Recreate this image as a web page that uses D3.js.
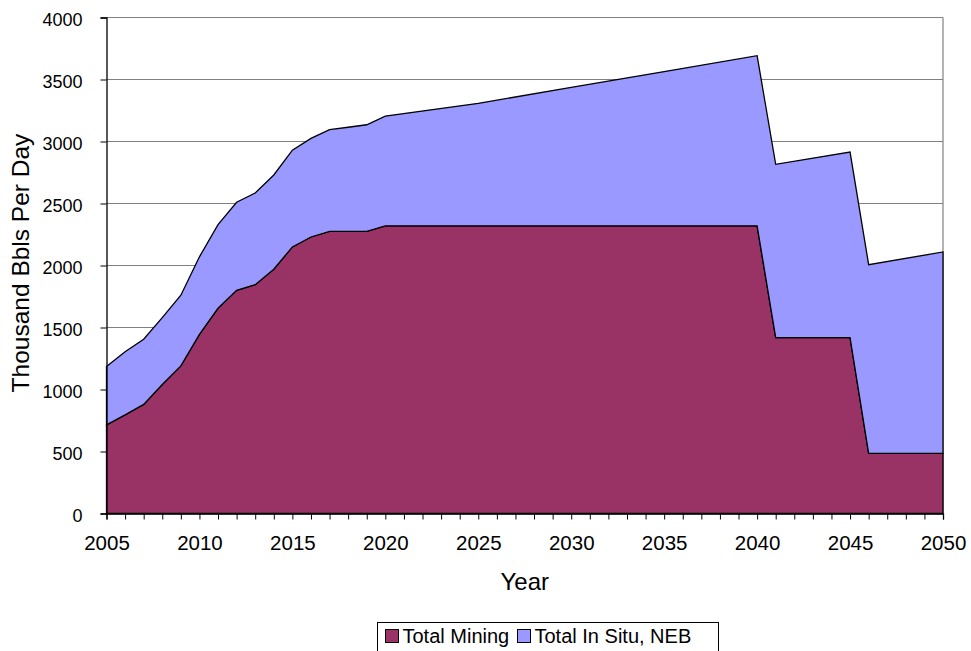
<!DOCTYPE html>
<html>
<head>
<meta charset="utf-8">
<script src="https://cdn.jsdelivr.net/npm/d3@7"></script>
<style>
  html, body { margin: 0; padding: 0; background: #fff; }
  svg { display: block; font-family: "Liberation Sans", Arial, sans-serif; }
</style>
</head>
<body>
<svg id="chart" width="971" height="651"></svg>
<script>
// Oil sands production outlook, thousand barrels per day
const years   = [2005, 2006, 2007, 2008, 2009, 2010, 2011, 2012, 2013, 2014, 2015, 2016, 2017, 2018, 2019, 2020,
                 2025, 2030, 2035, 2040, 2041, 2045, 2046, 2050];
const mining  = [715, 795, 880, 1040, 1190, 1445, 1655, 1800, 1845, 1970, 2150, 2230, 2275, 2275, 2275, 2320,
                 2320, 2320, 2320, 2320, 1418, 1418, 485, 485];
const inSitu  = [470, 510, 525, 540, 570, 625, 675, 710, 740, 760, 780, 795, 820, 840, 860, 885,
                 988, 1116, 1244, 1372, 1398, 1497, 1522, 1624];
const seriesNames = ["Total Mining", "Total In Situ, NEB"];
const colors = ["#993366", "#9999FF"];
const yTicks = [0, 500, 1000, 1500, 2000, 2500, 3000, 3500, 4000];
const xLabelYears = [2005, 2010, 2015, 2020, 2025, 2030, 2035, 2040, 2045, 2050];

const svg = d3.select("#chart");
const plotL = 106.5, plotR = 943, plotT = 17.5, plotB = 513.5;

const x = d3.scaleLinear().domain([2005, 2050]).range([plotL, plotR]);
const y = d3.scaleLinear().domain([0, 4000]).range([plotB, plotT]);

const rows = years.map((yr, i) => ({ year: yr, mining: mining[i], insitu: inSitu[i] }));
const stacked = d3.stack().keys(["mining", "insitu"])(rows);

// gridlines
svg.append("g")
  .selectAll("line")
  .data(yTicks.filter(v => v > 0))
  .join("line")
  .attr("x1", plotL).attr("x2", plotR)
  .attr("y1", d => y(d)).attr("y2", d => y(d))
  .attr("stroke", "#808080").attr("stroke-width", 1.2);

// right border
svg.append("line")
  .attr("x1", plotR).attr("x2", plotR).attr("y1", plotT).attr("y2", plotB)
  .attr("stroke", "#808080").attr("stroke-width", 1.2);

// stacked areas
const area = d3.area()
  .x(d => x(d.data.year))
  .y0(d => y(d[0]))
  .y1(d => y(d[1]));

svg.append("g")
  .selectAll("path")
  .data(stacked)
  .join("path")
  .attr("d", area)
  .attr("fill", (d, i) => colors[i])
  .attr("stroke", "#000")
  .attr("stroke-width", 1.3)
  .attr("stroke-linejoin", "miter");

// x axis
const xAxis = d3.axisBottom(x)
  .tickValues(d3.range(2005, 2051))
  .tickSize(6)
  .tickFormat(d => xLabelYears.includes(d) ? String(d) : "");
const gx = svg.append("g").attr("transform", `translate(0,${plotB})`).call(xAxis);
gx.select(".domain").attr("stroke", "#000").attr("stroke-width", 1.3);
gx.selectAll(".tick line").attr("stroke", "#000");
gx.selectAll(".tick text")
  .attr("font-size", 20.5).attr("fill", "#000")
  .attr("y", 22).attr("dy", "0.71em")
  .attr("font-family", "Liberation Sans, Arial, sans-serif");

// y axis
const yAxis = d3.axisLeft(y).tickValues(yTicks).tickSize(6).tickFormat(d3.format("d"));
const gy = svg.append("g").attr("transform", `translate(${plotL},0)`).call(yAxis);
gy.select(".domain").attr("stroke", "#000").attr("stroke-width", 1.3);
gy.selectAll(".tick line").attr("stroke", "#000");
gy.selectAll(".tick text")
  .attr("font-size", 18).attr("fill", "#000")
  .attr("x", -24).attr("dy", "0.45em")
  .attr("font-family", "Liberation Sans, Arial, sans-serif");

// axis titles
svg.append("text")
  .attr("x", (plotL + plotR) / 2).attr("y", 590)
  .attr("text-anchor", "middle").attr("font-size", 24).attr("fill", "#000")
  .text("Year");

svg.append("text")
  .attr("transform", "translate(29,263) rotate(-90)")
  .attr("text-anchor", "middle").attr("font-size", 24.5).attr("fill", "#000")
  .text("Thousand Bbls Per Day");

// legend
const legend = svg.append("g");
legend.append("rect")
  .attr("x", 377.5).attr("y", 622.5).attr("width", 341).attr("height", 40)
  .attr("fill", "#fff").attr("stroke", "#000").attr("stroke-width", 1);
const legendX = [385.5, 517.5];
seriesNames.forEach((name, i) => {
  legend.append("rect")
    .attr("x", legendX[i]).attr("y", 629.5).attr("width", 13).attr("height", 13)
    .attr("fill", colors[i]).attr("stroke", "#000").attr("stroke-width", 1);
  legend.append("text")
    .attr("x", legendX[i] + 17).attr("y", 643)
    .attr("font-size", 20).attr("fill", "#000")
    .text(name);
});
</script>
</body>
</html>
